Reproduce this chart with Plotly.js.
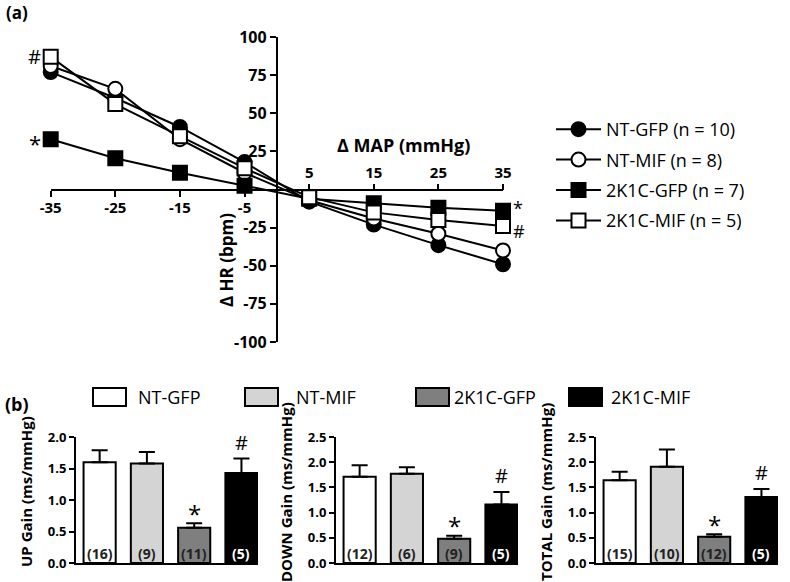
<!DOCTYPE html>
<html>
<head>
<meta charset="utf-8">
<script src="https://cdn.plot.ly/plotly-3.0.1.min.js"></script>
<style>html,body{margin:0;padding:0;background:#fff;}#chart{width:790px;height:582px;}</style>
</head>
<body>
<div id="chart"></div>
<script>
// ---------- Panel (a) data ----------
const mapX = [-35, -25, -15, -5, 5, 15, 25, 35];
const ntGfpHR   = [77, 60, 41, 18, -8, -23, -36.5, -49];
const ntMifHR   = [81, 66, 33, 11, -7, -19, -29, -40];
const k2GfpHR   = [33, 20.5, 11, 2.5, -6, -9, -12, -14];
const k2MifHR   = [87, 56, 35, 14, -5, -15, -20, -24];
const seriesNames = ['NT-GFP (n = 10)', 'NT-MIF (n = 8)', '2K1C-GFP (n = 7)', '2K1C-MIF (n = 5)'];
const negXTicks = [-35, -25, -15, -5];
const posXTicks = [5, 15, 25, 35];
const hrTicks = [100, 75, 50, 25, -25, -50, -75, -100];

// ---------- Panel (b) data ----------
const groups = ['NT-GFP', 'NT-MIF', '2K1C-GFP', '2K1C-MIF'];
const upGain      = [1.60, 1.58, 0.56, 1.43];
const upGainErr   = [0.19, 0.18, 0.07, 0.23];
const upN         = ['(16)', '(9)', '(11)', '(5)'];
const downGain    = [1.71, 1.77, 0.48, 1.16];
const downGainErr = [0.23, 0.13, 0.06, 0.25];
const downN       = ['(12)', '(6)', '(9)', '(5)'];
const totalGain   = [1.64, 1.91, 0.52, 1.31];
const totalGainErr= [0.17, 0.34, 0.05, 0.16];
const totalN      = ['(15)', '(10)', '(12)', '(5)'];
const sigMarks    = ['', '', '*', '#'];

// ---------- helpers ----------
const W = 790, H = 582;
const px = v => v / W;
const py = v => 1 - v / H;
const FONT = 'Open Sans, Lato, sans-serif';
const barColors = ['#ffffff', '#d4d4d4', '#7f7f7f', '#000000'];
const nColors = ['#222222', '#222222', '#222222', '#ffffff'];

const traces = [];
const lineStyles = [
  {y: ntGfpHR, symbol: 'circle', fill: '#000', xa: 'x'},
  {y: ntMifHR, symbol: 'circle', fill: '#fff', xa: 'x'},
  {y: k2GfpHR, symbol: 'square', fill: '#000', xa: 'x2'},
  {y: k2MifHR, symbol: 'square', fill: '#fff', xa: 'x2'}
];
lineStyles.forEach((s, i) => {
  traces.push({
    type: 'scatter', mode: 'lines+markers', x: mapX, y: s.y, name: seriesNames[i],
    xaxis: s.xa, yaxis: 'y', cliponaxis: false, legendgroup: 'g' + i,
    line: {color: '#000', width: 2},
    marker: {symbol: s.symbol, size: 14, color: s.fill, line: {color: '#000', width: 2}}
  });
});

const panels = [
  {vals: upGain, err: upGainErr, n: upN, xa: 'x3', ya: 'y3', title: 'UP Gain (ms/mmHg)', max: 2.0, x0: 76, x1: 258},
  {vals: downGain, err: downGainErr, n: downN, xa: 'x4', ya: 'y4', title: 'DOWN Gain (ms/mmHg)', max: 2.5, x0: 336, x1: 518},
  {vals: totalGain, err: totalGainErr, n: totalN, xa: 'x5', ya: 'y5', title: 'TOTAL Gain (ms/mmHg)', max: 2.5, x0: 596, x1: 778}
];
panels.forEach(p => {
  traces.push({
    type: 'bar', x: groups, y: p.vals, xaxis: p.xa, yaxis: p.ya, width: 0.68, showlegend: false,
    marker: {color: barColors, line: {color: '#000', width: 2}},
    error_y: {type: 'data', symmetric: false, array: p.err, arrayminus: [0, 0, 0, 0], color: '#000', thickness: 2, width: 8}
  });
});

const annotations = [];
// panel labels
annotations.push({xref: 'paper', yref: 'paper', x: px(4), y: py(12), xanchor: 'left', yanchor: 'middle', showarrow: false, text: '<b>(a)</b>', font: {family: FONT, size: 17, color: '#000'}});
annotations.push({xref: 'paper', yref: 'paper', x: px(3), y: py(404), xanchor: 'left', yanchor: 'middle', showarrow: false, text: '<b>(b)</b>', font: {family: FONT, size: 18, color: '#000'}});
// axis titles (a)
annotations.push({xref: 'paper', yref: 'paper', x: px(404), y: py(145), xanchor: 'center', yanchor: 'middle', showarrow: false, text: '<b>Δ MAP (mmHg)</b>', font: {family: FONT, size: 18, color: '#000'}});
annotations.push({xref: 'paper', yref: 'paper', x: px(226), y: py(260), xanchor: 'center', yanchor: 'middle', textangle: -90, showarrow: false, text: '<b>Δ HR (bpm)</b>', font: {family: FONT, size: 17, color: '#000'}});
// significance marks (a)
annotations.push({xref: 'x', yref: 'y', x: mapX[0], y: k2MifHR[0], xanchor: 'right', yanchor: 'middle', xshift: -8, showarrow: false, text: '#', font: {family: FONT, size: 20, color: '#000'}});
annotations.push({xref: 'x', yref: 'y', x: mapX[0], y: k2GfpHR[0], xanchor: 'right', yanchor: 'middle', xshift: -8, yshift: -4, showarrow: false, text: '*', font: {family: FONT, size: 22, color: '#000'}});
annotations.push({xref: 'x', yref: 'y', x: mapX[7], y: (k2GfpHR[7] + k2MifHR[7]) / 2, xanchor: 'left', yanchor: 'middle', xshift: 8, yshift: -1, align: 'left', showarrow: false, text: '*<br>#', font: {family: FONT, size: 18, color: '#000'}});

// bar panel annotations
panels.forEach(p => {
  annotations.push({xref: 'paper', yref: 'paper', x: px(p.x0 - 50), y: py(492), xanchor: 'center', yanchor: 'middle', textangle: -90, showarrow: false, text: '<b>' + p.title + '</b>', font: {family: FONT, size: 15, color: '#000'}});
  groups.forEach((g, i) => {
    annotations.push({xref: p.xa, yref: p.ya, x: g, y: 0, yanchor: 'middle', yshift: 10, showarrow: false, text: '<b>' + p.n[i] + '</b>', font: {family: FONT, size: 14, color: nColors[i]}});
    if (sigMarks[i]) {
      annotations.push({xref: p.xa, yref: p.ya, x: g, y: p.vals[i] + p.err[i], yanchor: 'middle', yshift: sigMarks[i] === '*' ? 10 : 16, showarrow: false, text: sigMarks[i], font: {family: FONT, size: sigMarks[i] === '*' ? 24 : 20, color: '#000'}});
    }
  });
});

// custom bar legend (keys)
const shapes = [];
const legBoxX = [93, 245, 416, 569];
const legTextX = [136, 294, 452, 609];
groups.forEach((g, i) => {
  shapes.push({type: 'rect', xref: 'paper', yref: 'paper', x0: px(legBoxX[i]), x1: px(legBoxX[i] + 33), y0: py(406), y1: py(388), fillcolor: barColors[i], line: {color: '#000', width: 2}});
  annotations.push({xref: 'paper', yref: 'paper', x: px(legTextX[i]), y: py(397), xanchor: 'left', yanchor: 'middle', showarrow: false, text: g, font: {family: FONT, size: 18, color: '#000'}});
});

const axLine = {showline: true, linecolor: '#000', linewidth: 2, showgrid: false, zeroline: false};
const tickA = {ticks: 'outside', ticklen: 6, tickwidth: 2, tickcolor: '#000', automargin: false};
const layout = {
  width: W, height: H,
  margin: {l: 0, r: 0, t: 0, b: 0},
  paper_bgcolor: '#fff', plot_bgcolor: 'rgba(0,0,0,0)',
  font: {family: FONT, color: '#000'},
  showlegend: true,
  legend: {x: px(551), y: py(111), xanchor: 'left', yanchor: 'top', traceorder: 'grouped', tracegroupgap: 4, itemwidth: 45, bgcolor: 'rgba(0,0,0,0)', font: {family: FONT, size: 18, color: '#000'}},
  xaxis: Object.assign({}, axLine, tickA, {domain: [px(50.7), px(503)], range: [-35, 35], anchor: 'free', position: py(189.5), side: 'bottom', tickvals: negXTicks, ticktext: negXTicks.map(v => '<b>' + v + '</b>'), tickfont: {family: FONT, size: 15}, ticklabelstandoff: -2}),
  xaxis2: Object.assign({}, axLine, tickA, {showline: false, overlaying: 'x', domain: [px(50.7), px(503)], range: [-35, 35], anchor: 'free', position: py(189.5), side: 'top', tickvals: posXTicks, ticktext: posXTicks.map(v => '<b>' + v + '</b>'), tickfont: {family: FONT, size: 15}}),
  yaxis: Object.assign({}, axLine, tickA, {domain: [py(342), py(37)], range: [-100, 100], anchor: 'free', position: px(276.85), side: 'left', tickvals: hrTicks, ticktext: hrTicks.map(v => '<b>' + v + '</b>'), tickfont: {family: FONT, size: 16}}),
  shapes: shapes,
  annotations: annotations
};
panels.forEach((p, k) => {
  const xi = 3 + k;
  layout['xaxis' + xi] = Object.assign({}, axLine, {domain: [px(p.x0), px(p.x1)], range: [-0.5, 3.35], anchor: 'y' + xi, type: 'category', showticklabels: false, ticks: '', automargin: false});
  layout['yaxis' + xi] = Object.assign({}, axLine, {domain: [py(563), py(437)], range: [0, p.max], dtick: 0.5, tickformat: '.1f', anchor: 'x' + xi, ticks: 'outside', ticklen: 5, tickwidth: 2, tickcolor: '#000', tickfont: {family: FONT, size: 13, weight: 'bold'}, automargin: false});
});

Plotly.newPlot('chart', traces, layout, {displayModeBar: false, staticPlot: true});
</script>
</body>
</html>
